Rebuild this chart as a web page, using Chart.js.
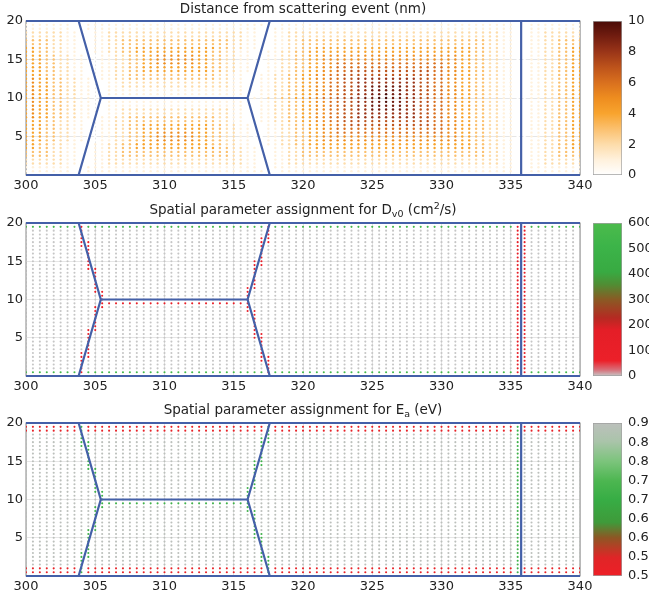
<!DOCTYPE html>
<html>
<head>
<meta charset="utf-8">
<script src="https://cdn.jsdelivr.net/npm/chart.js@4.4.1/dist/chart.umd.min.js"></script>
<style>
    html, body { margin: 0; padding: 0; background: #fff; }
    body { width: 649px; height: 598px; position: relative; overflow: hidden; }
    canvas { position: absolute; }
</style>
</head>
<body>
<canvas id="distPlot"></canvas>
<canvas id="distBar"></canvas>
<canvas id="dvPlot"></canvas>
<canvas id="dvBar"></canvas>
<canvas id="eaPlot"></canvas>
<canvas id="eaBar"></canvas>
<script>
'use strict';

// grid of sample points (nm)
const xCols = [
    300, 300.5, 301, 301.5, 302, 302.5, 303, 303.5, 304, 304.5,
    305, 305.5, 306, 306.5, 307, 307.5, 308, 308.5, 309, 309.5,
    310, 310.5, 311, 311.5, 312, 312.5, 313, 313.5, 314, 314.5,
    315, 315.5, 316, 316.5, 317, 317.5, 318, 318.5, 319, 319.5,
    320, 320.5, 321, 321.5, 322, 322.5, 323, 323.5, 324, 324.5,
    325, 325.5, 326, 326.5, 327, 327.5, 328, 328.5, 329, 329.5,
    330, 330.5, 331, 331.5, 332, 332.5, 333, 333.5, 334, 334.5,
    335, 335.5, 336, 336.5, 337, 337.5, 338, 338.5, 339, 339.5,
    340
];
const yRows = [
    19.5, 19, 18.5, 18, 17.5, 17, 16.5, 16, 15.5, 15,
    14.5, 14, 13.5, 13, 12.5, 12, 11.5, 11, 10.5, 10,
    9.5, 9, 8.5, 8, 7.5, 7, 6.5, 6, 5.5, 5,
    4.5, 4, 3.5, 3, 2.5, 2, 1.5, 1, 0.5
];

// distance from scattering event, nm (hex digit per point, rows top -> bottom)
const distRows = [
    "1111111001 1111111111 1111111111 1111100111 1111111111 1111111111 1111111111 1001111111 1",
    "1111111001 1111111111 1111111111 1111001111 1111111111 1111111111 1111111111 1001111111 1",
    "2222221100 1122222222 2222222222 2211001122 2222222222 2222222222 2222222221 1001122222 2",
    "2222221100 1122222222 2222222222 2211001122 2222222222 2222222222 2222222221 1001122222 2",
    "3333221100 1122333333 3333333333 2211001122 3333333333 3333333333 3333333221 1001122333 3",
    "3333221100 1122333333 3333333333 2211001122 3333333333 3333333333 3333333221 1001122333 3",
    "4433221100 1122334444 4444444433 2211001122 3344444444 4444444444 4444433221 1001122334 4",
    "4433221100 1122334444 4444444332 2110011223 3444444444 4444444444 4444433221 1001122334 4",
    "4443322110 0112233445 5555544332 2110011223 3445555555 5555555555 5554433221 1001122334 4",
    "4443322110 0112233445 5555544332 2110011223 3445555555 5555555555 5554433221 1001122334 4",
    "4443322110 0112233445 5555544332 2110011223 3445566666 6666666666 6554433221 1001122334 4",
    "4443322110 0112233444 4444444332 2110011223 3445566666 6666666666 6554433221 1001122334 4",
    "4443322110 0112233444 4444444332 2110011223 3445566777 7777777776 6554433221 1001122334 4",
    "4443322110 0112233333 3333333322 1100112233 4455667777 7777777776 6554433221 1001122334 4",
    "4544332211 0112233333 3333333322 1100112233 4455667788 8888888776 6554433221 1001122334 4",
    "4544332211 0011222222 2222222222 1100112233 4455667788 8888888776 6554433221 1001122334 4",
    "4544332211 0011222222 2222222222 1100112233 4455667788 9999988776 6554433221 1001122334 4",
    "4544332211 0011111111 1111111111 1100112233 4455667788 9999988776 6554433221 1001122334 4",
    "4544332211 0011111111 1111111111 1100112233 4455667788 99a9988776 6554433221 1001122334 4",
    "4544332211 0000000000 0000000000 0001122334 4556677889 9aa9988776 6554433221 1001122334 4",
    "4544332211 0011111111 1111111111 1100112233 4455667788 99a9988776 6554433221 1001122334 4",
    "4544332211 0011111111 1111111111 1100112233 4455667788 9999988776 6554433221 1001122334 4",
    "4544332211 0011222222 2222222222 1100112233 4455667788 9999988776 6554433221 1001122334 4",
    "4544332211 0011222222 2222222222 1100112233 4455667788 8888888776 6554433221 1001122334 4",
    "4544332211 0112233333 3333333322 1100112233 4455667788 8888888776 6554433221 1001122334 4",
    "4443322110 0112233333 3333333322 1100112233 4455667777 7777777776 6554433221 1001122334 4",
    "4443322110 0112233444 4444444332 2110011223 3445566777 7777777776 6554433221 1001122334 4",
    "4443322110 0112233444 4444444332 2110011223 3445566666 6666666666 6554433221 1001122334 4",
    "4443322110 0112233445 5555544332 2110011223 3445566666 6666666666 6554433221 1001122334 4",
    "4443322110 0112233445 5555544332 2110011223 3445555555 5555555555 5554433221 1001122334 4",
    "4443322110 0112233445 5555544332 2110011223 3445555555 5555555555 5554433221 1001122334 4",
    "4433221100 1122334444 4444444332 2110011223 3444444444 4444444444 4444433221 1001122334 4",
    "4433221100 1122334444 4444444433 2211001122 3344444444 4444444444 4444433221 1001122334 4",
    "3333221100 1122333333 3333333333 2211001122 3333333333 3333333333 3333333221 1001122333 3",
    "3333221100 1122333333 3333333333 2211001122 3333333333 3333333333 3333333221 1001122333 3",
    "2222221100 1122222222 2222222222 2211001122 2222222222 2222222222 2222222221 1001122222 2",
    "2222221100 1122222222 2222222222 2211001122 2222222222 2222222222 2222222221 1001122222 2",
    "1111111001 1111111111 1111111111 1111001111 1111111111 1111111111 1111111111 1001111111 1",
    "1111111001 1111111111 1111111111 1111100111 1111111111 1111111111 1111111111 1001111111 1"
];

// D_v0 assignment: . = 0, r = 130, g = 560 (cm2/s)
const dvRows = [
    "ggggggggrg gggggggggg gggggggggg gggggrgggg gggggggggg gggggggggg gggggggggg grrggggggg g",
    "........r. .......... .......... .....r.... .......... .......... .......... .rr....... .",
    "........r. .......... .......... .....r.... .......... .......... .......... .rr....... .",
    "........r. .......... .......... ....rr.... .......... .......... .......... .rr....... .",
    "........rr .......... .......... ....rr.... .......... .......... .......... .rr....... .",
    "........rr .......... .......... ....r..... .......... .......... .......... .rr....... .",
    ".........r .......... .......... ....r..... .......... .......... .......... .rr....... .",
    ".........r .......... .......... ....r..... .......... .......... .......... .rr....... .",
    ".........r .......... .......... ....r..... .......... .......... .......... .rr....... .",
    ".........r .......... .......... ...rr..... .......... .......... .......... .rr....... .",
    ".........r .......... .......... ...rr..... .......... .......... .......... .rr....... .",
    ".........r r......... .......... ...r...... .......... .......... .......... .rr....... .",
    ".......... r......... .......... ...r...... .......... .......... .......... .rr....... .",
    ".......... r......... .......... ...r...... .......... .......... .......... .rr....... .",
    ".......... r......... .......... ...r...... .......... .......... .......... .rr....... .",
    ".......... r......... .......... ...r...... .......... .......... .......... .rr....... .",
    ".......... r......... .......... ..rr...... .......... .......... .......... .rr....... .",
    ".......... rr........ .......... ..r....... .......... .......... .......... .rr....... .",
    ".......... .r........ .......... ..r....... .......... .......... .......... .rr....... .",
    ".......... .r........ .......... ..r....... .......... .......... .......... .rr....... .",
    ".......... .rrrrrrrrr rrrrrrrrrr rrr....... .......... .......... .......... .rr....... .",
    ".......... rr........ .......... ..r....... .......... .......... .......... .rr....... .",
    ".......... r......... .......... ..rr...... .......... .......... .......... .rr....... .",
    ".......... r......... .......... ...r...... .......... .......... .......... .rr....... .",
    ".......... r......... .......... ...r...... .......... .......... .......... .rr....... .",
    ".......... r......... .......... ...r...... .......... .......... .......... .rr....... .",
    ".......... r......... .......... ...r...... .......... .......... .......... .rr....... .",
    ".........r r......... .......... ...r...... .......... .......... .......... .rr....... .",
    ".........r .......... .......... ...rr..... .......... .......... .......... .rr....... .",
    ".........r .......... .......... ...rr..... .......... .......... .......... .rr....... .",
    ".........r .......... .......... ....r..... .......... .......... .......... .rr....... .",
    ".........r .......... .......... ....r..... .......... .......... .......... .rr....... .",
    ".........r .......... .......... ....r..... .......... .......... .......... .rr....... .",
    "........rr .......... .......... ....r..... .......... .......... .......... .rr....... .",
    "........rr .......... .......... ....rr.... .......... .......... .......... .rr....... .",
    "........r. .......... .......... ....rr.... .......... .......... .......... .rr....... .",
    "........r. .......... .......... .....r.... .......... .......... .......... .rr....... .",
    "........r. .......... .......... .....r.... .......... .......... .......... .rr....... .",
    "ggggggggrg gggggggggg gggggggggg gggggrgggg gggggggggg gggggggggg gggggggggg grrggggggg g"
];

// E_a assignment: . = 0.90, g = 0.72, r = 0.52 (eV)
const eaRows = [
    "rrrrrrrrgr rrrrrrrrrr rrrrrrrrrr rrrrrgrrrr rrrrrrrrrr rrrrrrrrrr rrrrrrrrrr rgrrrrrrrr r",
    "rrrrrrrrgr rrrrrrrrrr rrrrrrrrrr rrrrrgrrrr rrrrrrrrrr rrrrrrrrrr rrrrrrrrrr rgrrrrrrrr r",
    "........g. .......... .......... .....g.... .......... .......... .......... .g........ .",
    "........g. .......... .......... ....gg.... .......... .......... .......... .g........ .",
    "........gg .......... .......... ....gg.... .......... .......... .......... .g........ .",
    "........gg .......... .......... ....g..... .......... .......... .......... .g........ .",
    ".........g .......... .......... ....g..... .......... .......... .......... .g........ .",
    ".........g .......... .......... ....g..... .......... .......... .......... .g........ .",
    ".........g .......... .......... ....g..... .......... .......... .......... .g........ .",
    ".........g .......... .......... ...gg..... .......... .......... .......... .g........ .",
    ".........g .......... .......... ...gg..... .......... .......... .......... .g........ .",
    ".........g g......... .......... ...g...... .......... .......... .......... .g........ .",
    ".......... g......... .......... ...g...... .......... .......... .......... .g........ .",
    ".......... g......... .......... ...g...... .......... .......... .......... .g........ .",
    ".......... g......... .......... ...g...... .......... .......... .......... .g........ .",
    ".......... g......... .......... ...g...... .......... .......... .......... .g........ .",
    ".......... g......... .......... ..gg...... .......... .......... .......... .g........ .",
    ".......... gg........ .......... ..g....... .......... .......... .......... .g........ .",
    ".......... .g........ .......... ..g....... .......... .......... .......... .g........ .",
    ".......... .g........ .......... ..g....... .......... .......... .......... .g........ .",
    ".......... .ggggggggg gggggggggg ggg....... .......... .......... .......... .g........ .",
    ".......... gg........ .......... ..g....... .......... .......... .......... .g........ .",
    ".......... g......... .......... ..gg...... .......... .......... .......... .g........ .",
    ".......... g......... .......... ...g...... .......... .......... .......... .g........ .",
    ".......... g......... .......... ...g...... .......... .......... .......... .g........ .",
    ".......... g......... .......... ...g...... .......... .......... .......... .g........ .",
    ".......... g......... .......... ...g...... .......... .......... .......... .g........ .",
    ".........g g......... .......... ...g...... .......... .......... .......... .g........ .",
    ".........g .......... .......... ...gg..... .......... .......... .......... .g........ .",
    ".........g .......... .......... ...gg..... .......... .......... .......... .g........ .",
    ".........g .......... .......... ....g..... .......... .......... .......... .g........ .",
    ".........g .......... .......... ....g..... .......... .......... .......... .g........ .",
    ".........g .......... .......... ....g..... .......... .......... .......... .g........ .",
    "........gg .......... .......... ....g..... .......... .......... .......... .g........ .",
    "........gg .......... .......... ....gg.... .......... .......... .......... .g........ .",
    "........g. .......... .......... ....gg.... .......... .......... .......... .g........ .",
    "........g. .......... .......... .....g.... .......... .......... .......... .g........ .",
    "rrrrrrrrgr rrrrrrrrrr rrrrrrrrrr rrrrrgrrrr rrrrrrrrrr rrrrrrrrrr rrrrrrrrrr rgrrrrrrrr r",
    "rrrrrrrrgr rrrrrrrrrr rrrrrrrrrr rrrrrgrrrr rrrrrrrrrr rrrrrrrrrr rrrrrrrrrr rgrrrrrrrr r"
];
const dvCodes = { '.': 0, r: 130, g: 560 };
const eaCodes = { '.': 0.9, r: 0.52, g: 0.72 };

// boundaries (x nm, y nm)
const topEdge = [[300, 20], [340, 20]];
const bottomEdge = [[300, 0], [340, 0]];
const leftWall = [[303.8, 20], [305.4, 10], [303.8, 0]];
const rightWall = [[317.6, 20], [316.0, 10], [317.6, 0]];
const midWall = [[305.4, 10], [316.0, 10]];
const gapWall = [[335.75, 0], [335.75, 20]];

// ticks
const xTicks = [300, 305, 310, 315, 320, 325, 330, 335, 340];
const yTicks = [5, 10, 15, 20];
const distTicks = [0, 2, 4, 6, 8, 10];
const dvTicks = [0, 100, 200, 300, 400, 500, 600];
const eaTicks = [0.5, 0.55, 0.6, 0.65, 0.7, 0.75, 0.8, 0.85, 0.9];

// colour maps (position 0..1, colour)
const distCmap = [[0, '#ffffff'], [0.1, '#fff1dc'], [0.2, '#fddcaa'], [0.3, '#fbc06e'], [0.4, '#f8a42e'],
    [0.5, '#ee8d1f'], [0.6, '#d9701e'], [0.7, '#bd531b'], [0.8, '#9a3518'], [0.9, '#721d10'], [1, '#4a0b07']];
const dvCmap = [[0, '#c6c6c6'], [0.04, '#d8707a'], [0.1, '#ec2029'], [0.3, '#e41e27'], [0.38, '#b52a22'],
    [0.5, '#8a5a24'], [0.6, '#4f8e34'], [0.68, '#38aa42'], [0.85, '#3cb449'], [1, '#4cbb4c']];
const eaCmap = [[0, '#ee1f27'], [0.12, '#e02527'], [0.25, '#8e5624'], [0.35, '#3f9a3a'], [0.5, '#37ad45'],
    [0.62, '#4cb650'], [0.75, '#7cc47c'], [0.88, '#aac4aa'], [1, '#bcc0bc']];

const lineBlue = '#4460a8';
const fontFamily = "'DejaVu Sans', sans-serif";

Chart.defaults.font.family = fontFamily;
Chart.defaults.color = '#222';

function hexRgb(h) {
    return [parseInt(h.substr(1, 2), 16), parseInt(h.substr(3, 2), 16), parseInt(h.substr(5, 2), 16)];
}

function cmapColor(cmap, t) {
    t = Math.max(0, Math.min(1, t));
    for (let k = 1; k < cmap.length; k++) {
        if (t <= cmap[k][0]) {
            const a = cmap[k - 1], b = cmap[k];
            const f = (t - a[0]) / (b[0] - a[0] || 1);
            const ca = hexRgb(a[1]), cb = hexRgb(b[1]);
            const c = ca.map((v, n) => Math.round(v + (cb[n] - v) * f));
            return 'rgb(' + c.join(',') + ')';
        }
    }
    return cmap[cmap.length - 1][1];
}

function buildDots(rows, toValue, lo, hi, cmap) {
    let pts = [], colors = [];
    rows.forEach(function (row, j) {
        let cells = row.replace(/ /g, '');
        for (let i = 0; i < xCols.length; i++) {
            let v = toValue(cells[i] || '.');
            pts.push({x: xCols[i], y: yRows[j]});
            colors.push(cmapColor(cmap, (v - lo) / (hi - lo)));
        }
    });
    return {pts: pts, colors: colors};
}

function toXY(line) {
    return line.map(p => ({x: p[0], y: p[1]}));
}

// title with sub/superscripts, centred on the plot area
function richTitle(parts, baseline) {
    return {
        id: 'richTitle',
        afterDraw(chart) {
            const ctx = chart.ctx, area = chart.chartArea;
            const big = 13.5, small = 9.5;
            let widths = [], total = 0;
            ctx.save();
            parts.forEach(function (p) {
                ctx.font = (p.sub || p.sup ? small : big) + 'px ' + fontFamily;
                let w = ctx.measureText(p.text).width;
                widths.push(w);
                total += w;
            });
            let x = (area.left + area.right) / 2 - total / 2;
            ctx.fillStyle = '#222';
            ctx.textAlign = 'left';
            ctx.textBaseline = 'alphabetic';
            parts.forEach(function (p, k) {
                ctx.font = (p.sub || p.sup ? small : big) + 'px ' + fontFamily;
                let dy = p.sub ? 3 : (p.sup ? -5 : 0);
                ctx.fillText(p.text, x, baseline + dy);
                x += widths[k];
            });
            ctx.restore();
        }
    };
}

const framePlugin = {
    id: 'frame',
    beforeDatasetsDraw(chart) {
        const ctx = chart.ctx, a = chart.chartArea;
        ctx.save();
        ctx.strokeStyle = '#8a8a8a';
        ctx.lineWidth = 1;
        ctx.strokeRect(a.left, a.top, a.right - a.left, a.bottom - a.top);
        ctx.restore();
    }
};

function makePanel(id, cfg) {
    let canvas = document.getElementById(id);
    canvas.width = 600;
    canvas.height = 198;
    canvas.style.left = '0px';
    canvas.style.top = cfg.top + 'px';

    let dots = buildDots(cfg.rows, cfg.toValue, cfg.lo, cfg.hi, cfg.cmap);
    let walls = [topEdge, bottomEdge, leftWall, rightWall, midWall, gapWall];
    let datasets = walls.map(w => ({
        type: 'line',
        data: toXY(w),
        borderColor: lineBlue,
        borderWidth: 2.2,
        pointRadius: 0,
        showLine: true,
        fill: false,
        clip: false,
        order: 1
    }));
    datasets.push({
        type: 'scatter',
        data: dots.pts,
        backgroundColor: dots.colors,
        borderWidth: 0,
        pointRadius: cfg.dotRadius,
        order: 2
    });

    new Chart(canvas, {
        type: 'scatter',
        data: {datasets: datasets},
        options: {
            responsive: false,
            animation: false,
            events: [],
            layout: {padding: {left: 0, right: 20, top: cfg.areaTop, bottom: 198 - 20 - cfg.areaBottom}},
            plugins: {legend: {display: false}, tooltip: {enabled: false}, title: {display: false}},
            scales: {
                x: {
                    type: 'linear', min: 300, max: 340,
                    afterBuildTicks: s => { s.ticks = xTicks.map(v => ({value: v})); },
                    afterFit: s => { s.height = 20; },
                    ticks: {font: {size: 13}, padding: 3, maxRotation: 0, autoSkip: false, color: '#222'},
                    grid: {color: '#e0e0e0', lineWidth: 0.8, drawTicks: false},
                    border: {display: false}
                },
                y: {
                    type: 'linear', min: 0, max: 20,
                    afterBuildTicks: s => { s.ticks = yTicks.map(v => ({value: v})); },
                    afterFit: s => { s.width = 26; },
                    ticks: {font: {size: 13}, padding: 3, color: '#222'},
                    grid: {color: '#e0e0e0', lineWidth: 0.8, drawTicks: false},
                    border: {display: false}
                }
            }
        },
        plugins: [framePlugin, richTitle(cfg.title, cfg.titleY)]
    });
}

function makeColorbar(id, cfg) {
    let canvas = document.getElementById(id);
    canvas.width = 66;
    canvas.height = 198;
    canvas.style.left = '583px';
    canvas.style.top = cfg.top + 'px';

    new Chart(canvas, {
        type: 'bar',
        data: {
            labels: [''],
            datasets: [{
                data: [[cfg.lo, cfg.hi]],
                backgroundColor: function (context) {
                    const chart = context.chart, area = chart.chartArea;
                    if (!area) return null;
                    let g = chart.ctx.createLinearGradient(0, area.bottom, 0, area.top);
                    cfg.cmap.forEach(s => g.addColorStop(s[0], s[1]));
                    return g;
                },
                borderColor: '#a0a0a0',
                borderWidth: 1,
                borderSkipped: false,
                barPercentage: 1,
                categoryPercentage: 1
            }]
        },
        options: {
            responsive: false,
            animation: false,
            events: [],
            layout: {padding: {left: 10, right: 0, top: cfg.areaTop, bottom: 198 - cfg.areaBottom}},
            plugins: {legend: {display: false}, tooltip: {enabled: false}},
            scales: {
                x: {display: false},
                y: {
                    position: 'right', min: cfg.lo, max: cfg.hi,
                    afterBuildTicks: s => { s.ticks = cfg.ticks.map(v => ({value: v})); },
                    afterFit: s => { s.width = 27; },
                    ticks: {font: {size: 13}, padding: 6, color: '#222', callback: cfg.fmt},
                    grid: {display: false, drawTicks: false},
                    border: {display: false}
                }
            }
        }
    });
}

makePanel('distPlot', {
    top: 0, areaTop: 21, areaBottom: 175, titleY: 13, dotRadius: 1.2,
    rows: distRows, toValue: c => parseInt(c, 16), lo: 0, hi: 10, cmap: distCmap,
    title: [{text: 'Distance from scattering event (nm)'}]
});
makeColorbar('distBar', {
    top: 0, areaTop: 21, areaBottom: 175, lo: 0, hi: 10, cmap: distCmap,
    ticks: distTicks, fmt: v => String(v)
});

makePanel('dvPlot', {
    top: 200, areaTop: 23, areaBottom: 176, titleY: 14, dotRadius: 1.05,
    rows: dvRows, toValue: c => dvCodes[c], lo: 0, hi: 600, cmap: dvCmap,
    title: [{text: 'Spatial parameter assignment for D'}, {text: 'v0', sub: true},
        {text: ' (cm'}, {text: '2', sup: true}, {text: '/s)'}]
});
makeColorbar('dvBar', {
    top: 200, areaTop: 23, areaBottom: 176, lo: 0, hi: 600, cmap: dvCmap,
    ticks: dvTicks, fmt: v => String(v)
});

makePanel('eaPlot', {
    top: 400, areaTop: 23, areaBottom: 176, titleY: 13.5, dotRadius: 1.05,
    rows: eaRows, toValue: c => eaCodes[c], lo: 0.5, hi: 0.9, cmap: eaCmap,
    title: [{text: 'Spatial parameter assignment for E'}, {text: 'a', sub: true}, {text: ' (eV)'}]
});
makeColorbar('eaBar', {
    top: 400, areaTop: 23, areaBottom: 176, lo: 0.5, hi: 0.9, cmap: eaCmap,
    ticks: eaTicks, fmt: v => v.toFixed(2)
});
</script>
</body>
</html>
